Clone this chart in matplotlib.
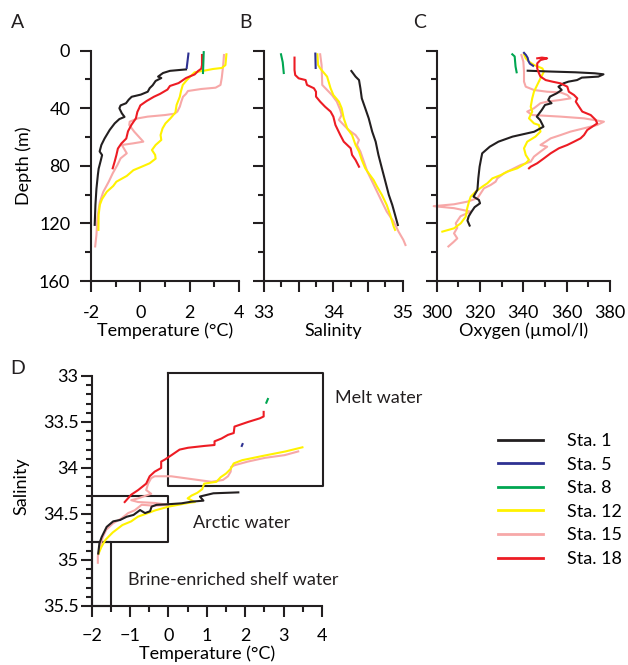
import matplotlib
matplotlib.use("Agg")
import matplotlib.pyplot as plt
from matplotlib.ticker import MultipleLocator, FuncFormatter

plt.rcParams['font.family'] = ['Lato', 'DejaVu Sans']
FS = 13

stations = ["Sta. 1", "Sta. 5", "Sta. 8", "Sta. 12", "Sta. 15", "Sta. 18"]
colors = ["#231f20", "#2e3192", "#00a651", "#fff200", "#f7a8a8", "#ed1c24"]

# ---- Panel A: temperature profiles (depth m, temperature °C)
st1_t_depth = [13, 14, 15.5, 18, 19, 21, 24, 26, 28.5, 30.5, 32, 34, 36.5, 38, 40, 43.5, 46, 47.5, 50.5, 55, 61, 65.5, 70, 72.5, 76, 82, 86, 96, 107, 121]
st1_temp = [1.85, 1.2, 0.92, 0.72, 0.85, 0.62, 0.5, 0.38, 0.3, 0.02, -0.35, -0.47, -0.58, -0.8, -0.85, -0.75, -0.64, -0.85, -1.04, -1.24, -1.45, -1.58, -1.65, -1.55, -1.6, -1.69, -1.72, -1.78, -1.82, -1.85]
st5_t_depth = [2, 12]
st5_temp = [1.95, 1.88]
st8_t_depth = [1, 15.5]
st8_temp = [2.57, 2.54]
st12_t_depth = [2.5, 10, 12, 12.7, 14, 15, 17.5, 20.5, 23.8, 28, 32, 37.7, 43, 47, 50.5, 54, 58.6, 62, 65.5, 69, 72.4, 75, 78.2, 81, 83, 87, 91, 94, 98, 103, 107, 114, 124.5]
st12_temp = [3.49, 3.45, 3.3, 2.95, 2.55, 2.2, 2.05, 1.88, 1.72, 1.65, 1.6, 1.47, 1.42, 1.22, 1.02, 0.9, 0.82, 0.85, 0.62, 0.47, 0.6, 0.62, 0.38, 0.0, -0.28, -0.55, -0.97, -1.1, -1.36, -1.55, -1.64, -1.69, -1.7]
st15_t_depth = [3, 10, 19, 23.8, 25.7, 26.6, 28, 30, 32, 35.4, 38.9, 42.3, 43.8, 44.7, 45.8, 47, 49.3, 51.6, 56.2, 63.2, 64.4, 65.5, 71.3, 74.8, 79.4, 85.2, 91, 98, 105, 116, 128, 136]
st15_temp = [3.39, 3.36, 3.3, 3.25, 3.05, 2.47, 1.93, 1.85, 1.73, 1.66, 1.6, 1.5, 1.38, 1.0, 0.3, -0.1, -0.43, -0.45, -0.25, 0.12, -0.3, -0.75, -0.55, -0.8, -0.93, -1.12, -1.28, -1.5, -1.64, -1.74, -1.78, -1.83]
st18_t_depth = [3, 10, 12.5, 14, 16.5, 19, 21, 22.5, 24.5, 27, 30, 32, 35, 38, 40, 42.5, 47, 51.5, 56, 61, 64.5, 68, 72.5, 77, 81.7]
st18_temp = [2.5, 2.5, 2.47, 2.35, 2.2, 1.85, 1.68, 1.55, 1.2, 1.1, 0.8, 0.55, 0.25, 0.0, -0.05, -0.12, -0.18, -0.36, -0.5, -0.57, -0.77, -0.91, -0.97, -1.04, -1.12]

# ---- Panel B: salinity profiles (depth m, salinity)
st1_s_depth = [14.1, 18, 20.4, 26.1, 33.1, 40, 47, 56.2, 63.2, 72.4, 81.7, 90.9, 100.2, 107.2, 114.1, 121.1]
st1_sal = [34.26, 34.32, 34.37, 34.39, 34.41, 34.46, 34.51, 34.56, 34.61, 34.65, 34.7, 34.75, 34.8, 34.85, 34.89, 34.93]
st5_s_depth = [2, 12]
st5_sal = [33.74, 33.745]
st8_s_depth = [2.5, 8, 15.5]
st8_sal = [33.245, 33.27, 33.285]
st12_s_depth = [2.5, 9.9, 12.3, 18, 26.1, 30.8, 35.4, 40, 47, 53.9, 58.6, 65.5, 70.1, 75.9, 81.7, 85.2, 89.8, 94.4, 100.2, 107.2, 114.1, 122.2, 124.5]
st12_sal = [33.77, 33.78, 33.81, 33.91, 33.96, 34.0, 34.08, 34.12, 34.15, 34.2, 34.27, 34.32, 34.37, 34.41, 34.46, 34.51, 34.58, 34.63, 34.7, 34.77, 34.82, 34.87, 34.89]
st15_s_depth = [2.5, 9.9, 23.8, 27.3, 30.8, 35.4, 41.2, 44.7, 48.1, 51.6, 55.1, 58.6, 62, 65.5, 70.1, 77, 84, 90.9, 97.9, 104.9, 111.8, 118.8, 125.7, 131.5, 135]
st15_sal = [33.81, 33.83, 33.84, 33.91, 33.98, 34.05, 34.1, 34.12, 34.08, 34.15, 34.22, 34.32, 34.37, 34.34, 34.39, 34.44, 34.49, 34.56, 34.63, 34.7, 34.77, 34.87, 34.94, 35.01, 35.04]
st18_s_depth = [4.8, 13.4, 16.9, 19.2, 20.4, 23.8, 26.1, 28.5, 31.9, 35.4, 38.9, 42.3, 45.8, 51.6, 58.6, 63.2, 67.8, 72.4, 75.9, 80.6]
st18_sal = [33.44, 33.44, 33.45, 33.5, 33.6, 33.62, 33.72, 33.75, 33.75, 33.81, 33.88, 33.96, 34.0, 34.03, 34.1, 34.15, 34.25, 34.27, 34.32, 34.37]

# ---- Panel C: oxygen profiles (depth m, µmol/l)
st1_o_depth = [13.9, 14.5, 15, 15.7, 16.4, 18, 18.7, 20.4, 21.5, 22.7, 25, 27.3, 29.6, 31.9, 34.2, 36.5, 37.7, 41.2, 45.8, 48.1, 52.8, 56.3, 59.7, 63.2, 66.7, 71.3, 75, 80.6, 88.7, 96.6, 101.4, 103.7, 106, 108.7, 112, 115, 118, 121.5]
st1_oxy = [342, 353, 364, 373, 377, 374.6, 367, 364.8, 360.8, 358.5, 356.2, 357.7, 355.4, 352.3, 351.5, 353, 350, 348.5, 346.2, 347.7, 349.3, 345, 335, 328.5, 324.5, 321, 320.5, 319.8, 319.2, 318.8, 317, 319.5, 320, 317.5, 316, 314.8, 314.2, 315.2]
st5_o_depth = [1.5, 3, 5, 7, 9, 10.5]
st5_oxy = [340.3, 341.2, 342.0, 342.3, 343.0, 344.5]
st8_o_depth = [2.5, 4, 7.6, 11, 15]
st8_oxy = [334.9, 336, 336.2, 336.4, 336.9]
st12_o_depth = [2.5, 5.3, 7.6, 9.9, 12.3, 14.5, 19.2, 23.8, 28.5, 33.1, 38.9, 42.3, 47, 50.5, 51.6, 56.2, 59.7, 63.2, 67.8, 72.4, 75.9, 78.2, 81.7, 84, 86.4, 88.7, 92.1, 94.4, 97.9, 101.4, 104.9, 109.4, 115.3, 119.9, 123.4, 125.7]
st12_oxy = [340.3, 341.1, 342.6, 344.9, 348.8, 349.5, 347.9, 346.4, 344.9, 344.1, 343.4, 344.1, 342.6, 344.9, 347.2, 347.9, 345.6, 341.8, 340.3, 341.1, 342.6, 341.1, 337.2, 332.6, 329.6, 325.7, 323.4, 321.1, 318, 315.7, 314.9, 314.1, 313.4, 311.1, 308, 302.6]
st15_o_depth = [3, 7.6, 14.5, 21.5, 25, 27.3, 28.5, 29, 30.8, 33.1, 34.2, 35.4, 36.5, 40, 42.3, 44.7, 45.8, 47, 49.3, 51.6, 53.9, 56.2, 58.6, 60.9, 63.2, 65.5, 66.7, 70.1, 73.6, 77.1, 79.4, 82.9, 85.2, 88.7, 91, 93.3, 95.6, 99.1, 102.5, 104.9, 106.7, 108, 109.4, 111.8, 115, 119.9, 123, 126.9, 130.4, 133, 136]
st15_oxy = [339.1, 340, 340.3, 340.3, 341.1, 344.9, 351, 357.2, 360.3, 361.8, 357.2, 351, 347.9, 344.9, 341.8, 344.1, 357.2, 368, 377.2, 374.1, 368, 361.8, 357.2, 352.6, 350.3, 347.9, 351, 347.9, 344.9, 343.4, 338.8, 334.1, 331.1, 328, 327.2, 324.9, 321.8, 320.3, 318.8, 314.1, 308, 298.6, 308, 315.7, 311, 308.8, 309.5, 308, 309.5, 307.7, 305.4]
st18_o_depth = [5.3, 4.8, 5.3, 6.5, 8.8, 12.3, 15.7, 18, 20.4, 21.5, 22.7, 25, 28.5, 30.8, 33.1, 35.4, 38.9, 42.3, 44.7, 48.1, 50.5, 52.8, 55.1, 58.6, 60.9, 63.2, 65.5, 67.8, 71.3, 74.8, 78.2, 80.6, 81.7]
st18_oxy = [346.4, 348.6, 351, 347.9, 346.4, 346.4, 347.2, 347.9, 350.3, 353.4, 357.2, 360.3, 361, 363.4, 364.9, 364.2, 365.7, 367.2, 371.1, 373.4, 374.1, 371.8, 369.5, 368, 366.4, 363.4, 360.3, 356.4, 352.6, 349.5, 346.4, 343.4, 342.6]

# ---- Panel D: T-S diagram (temperature °C, salinity)
st1_ts_temp = [1.82, 1.17, 0.82, 0.91, 0.6, 0.34, 0.13, -0.05, -0.31, -0.44, -0.48, -0.61, -0.74, -0.91, -1.09, -1.26, -1.44, -1.61, -1.74, -1.8, -1.83]
st1_ts_sal = [34.265, 34.275, 34.31, 34.355, 34.366, 34.384, 34.39, 34.395, 34.4, 34.42, 34.47, 34.49, 34.457, 34.51, 34.53, 34.565, 34.58, 34.64, 34.75, 34.82, 34.93]
st5_ts_temp = [1.93, 1.91]
st5_ts_sal = [33.74, 33.76]
st8_ts_temp = [2.55, 2.59]
st8_ts_sal = [33.29, 33.25]
st12_ts_temp = [3.49, 3.05, 2.5, 1.92, 1.7, 1.62, 1.5, 1.36, 1.25, 0.93, 0.88, 0.75, 0.6, 0.5, 0.69, 0.51, 0.0, -0.34, -0.8, -0.97, -1.2, -1.45, -1.64, -1.75, -1.82]
st12_ts_sal = [33.775, 33.82, 33.865, 33.915, 33.95, 34.01, 34.06, 34.1, 34.15, 34.17, 34.23, 34.27, 34.3, 34.33, 34.37, 34.38, 34.42, 34.46, 34.53, 34.58, 34.62, 34.7, 34.78, 34.86, 34.93]
st15_ts_temp = [3.38, 3.03, 2.51, 2.07, 1.72, 1.63, 1.62, 1.55, 1.42, 1.12, 0.77, 0.42, 0.07, -0.36, -0.45, -0.53, -0.58, -0.45, -0.79, -0.97, -0.79, -0.36, 0.0, -0.36, -0.7, -0.88, -1.05, -1.23, -1.44, -1.62, -1.71, -1.79, -1.84, -1.84]
st15_ts_sal = [33.82, 33.86, 33.89, 33.93, 33.97, 33.99, 34.04, 34.09, 34.13, 34.15, 34.13, 34.11, 34.09, 34.09, 34.11, 34.17, 34.24, 34.28, 34.33, 34.35, 34.37, 34.38, 34.4, 34.41, 34.4, 34.46, 34.49, 34.55, 34.6, 34.67, 34.75, 34.86, 34.96, 35.03]
st18_ts_temp = [2.48, 2.48, 2.38, 2.07, 1.72, 1.7, 1.55, 1.38, 1.2, 1.2, 0.94, 0.51, 0.29, 0.08, -0.1, -0.19, -0.19, -0.36, -0.49, -0.58, -0.79, -0.97, -1.14]
st18_ts_sal = [33.39, 33.44, 33.46, 33.5, 33.55, 33.62, 33.64, 33.68, 33.71, 33.75, 33.76, 33.78, 33.8, 33.86, 33.91, 33.93, 34.0, 34.04, 34.09, 34.17, 34.24, 34.29, 34.37]

# water mass boxes (temperature range, salinity range) and labels
melt_box = ([0, 4.03], [32.97, 34.2])
arctic_box = ([-2, 0], [34.3, 34.8])
brine_box = ([-2, -1.5], [34.8, 35.5])
region_labels = ["Melt water", "Arctic water", "Brine-enriched shelf water"]
region_label_pos = [(4.34, 33.24), (0.63, 34.6), (-1.05, 35.22)]

temp_sets = [(st1_t_depth, st1_temp), (st5_t_depth, st5_temp), (st8_t_depth, st8_temp),
             (st12_t_depth, st12_temp), (st15_t_depth, st15_temp), (st18_t_depth, st18_temp)]
sal_sets = [(st1_s_depth, st1_sal), (st5_s_depth, st5_sal), (st8_s_depth, st8_sal),
            (st12_s_depth, st12_sal), (st15_s_depth, st15_sal), (st18_s_depth, st18_sal)]
oxy_sets = [(st1_o_depth, st1_oxy), (st5_o_depth, st5_oxy), (st8_o_depth, st8_oxy),
            (st12_o_depth, st12_oxy), (st15_o_depth, st15_oxy), (st18_o_depth, st18_oxy)]
ts_sets = [(st1_ts_temp, st1_ts_sal), (st5_ts_temp, st5_ts_sal), (st8_ts_temp, st8_ts_sal),
           (st12_ts_temp, st12_ts_sal), (st15_ts_temp, st15_ts_sal), (st18_ts_temp, st18_ts_sal)]
draw_order = [4, 3, 0, 5, 1, 2]

W, H = 628, 665
fig = plt.figure(figsize=(W / 100, H / 100), dpi=100)

def px_axes(l, t, r, b):
    return fig.add_axes([l / W, 1 - b / H, (r - l) / W, (b - t) / H])

LW = 1.5
INK = "#231f20"

def style(ax, ypad=7):
    for s in ["top", "right"]:
        ax.spines[s].set_visible(False)
    for s in ["left", "bottom"]:
        ax.spines[s].set_linewidth(LW)
        ax.spines[s].set_color(INK)
    ax.tick_params(which="major", direction="out", length=8, width=LW, labelsize=FS, color=INK)
    ax.tick_params(which="minor", direction="out", length=4, width=LW, color=INK)
    ax.tick_params(axis="x", which="major", pad=9.5)
    ax.tick_params(axis="y", which="major", pad=ypad)

axA = px_axes(91, 50.7, 239, 281)
axB = px_axes(264, 50.7, 402.7, 281)
axC = px_axes(436.7, 50.7, 610, 281)
axD = px_axes(91.7, 376, 322, 606)

for ax, sets in ((axA, temp_sets), (axB, sal_sets), (axC, oxy_sets)):
    for i in draw_order:
        d, v = sets[i]
        ax.plot(v, d, color=colors[i], lw=LW, clip_on=False, solid_joinstyle="round")
    ax.set_ylim(160, 0)
    ax.yaxis.set_major_locator(MultipleLocator(40))
    ax.yaxis.set_minor_locator(MultipleLocator(20))
    style(ax)

axA.set_xlim(-2, 4)
axA.xaxis.set_major_locator(MultipleLocator(2))
axA.xaxis.set_minor_locator(MultipleLocator(1))
axA.xaxis.set_major_formatter(FuncFormatter(lambda v, p: f"{v:g}"))
axA.set_xlabel("Temperature (°C)", fontsize=FS)
axA.set_ylabel("Depth (m)", fontsize=FS)
axA.yaxis.set_label_coords(-0.40, 0.5)
axA.xaxis.set_label_coords(0.5, -0.182)

axB.set_xlim(33, 35)
axB.xaxis.set_major_locator(MultipleLocator(0.5))
axB.xaxis.set_minor_locator(MultipleLocator(0.25))
axB.xaxis.set_major_formatter(FuncFormatter(lambda v, p: f"{v:g}" if abs(v - round(v)) < 1e-6 else ""))
axB.set_yticklabels([])
axB.set_xlabel("Salinity", fontsize=FS)
axB.xaxis.set_label_coords(0.5, -0.182)

axC.set_xlim(300, 380)
axC.xaxis.set_major_locator(MultipleLocator(20))
axC.xaxis.set_minor_locator(MultipleLocator(10))
axC.set_yticklabels([])
axC.set_xlabel("Oxygen (µmol/l)", fontsize=FS)
axC.xaxis.set_label_coords(0.5, -0.182)

# Panel D
for i in draw_order:
    t, s = ts_sets[i]
    axD.plot(t, s, color=colors[i], lw=LW, clip_on=False)
handles = [plt.Line2D([], [], color=colors[i], lw=LW + 0.5) for i in range(6)]
for (xr, yr) in (melt_box, arctic_box, brine_box):
    axD.plot([xr[0], xr[1], xr[1], xr[0], xr[0]], [yr[0], yr[0], yr[1], yr[1], yr[0]],
             color=INK, lw=LW, clip_on=False, zorder=1)
for lab, (x, y) in zip(region_labels, region_label_pos):
    axD.text(x, y, lab, fontsize=FS, ha="left", va="center", color=INK)
axD.set_xlim(-2, 4)
axD.set_ylim(35.5, 33)
axD.xaxis.set_major_locator(MultipleLocator(1))
axD.xaxis.set_minor_locator(MultipleLocator(0.5))
axD.yaxis.set_major_locator(MultipleLocator(0.5))
axD.yaxis.set_minor_locator(MultipleLocator(0.1))
axD.yaxis.set_major_formatter(FuncFormatter(lambda v, p: f"{v:g}"))
style(axD, ypad=1.5)
axD.tick_params(axis="x", which="major", pad=8)
axD.set_xlabel("Temperature (°C)", fontsize=FS)
axD.set_ylabel("Salinity", fontsize=FS)
axD.xaxis.set_label_coords(0.5, -0.172)
axD.yaxis.set_label_coords(-0.27, 0.52)

fig.legend(handles, stations, loc="upper left", bbox_to_anchor=(498 / W, 1 - 433 / H),
           frameon=False, fontsize=FS, handlelength=2.5, handletextpad=1.3,
           labelspacing=0.42, borderpad=0, borderaxespad=0)

for lab, x, y in (("A", 18, 23), ("B", 245, 23), ("C", 420, 23), ("D", 18, 368)):
    fig.text(x / W, 1 - y / H, lab, fontsize=FS + 1, ha="center", va="center", color=INK)

fig.savefig("out.png", dpi=100)
